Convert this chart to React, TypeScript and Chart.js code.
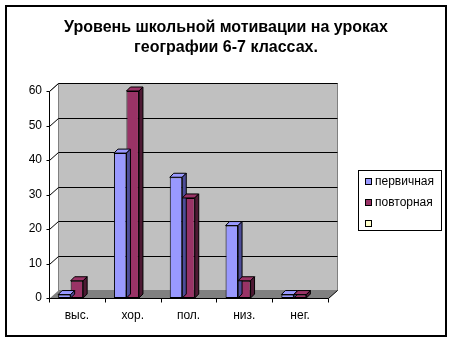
import React, { useEffect, useRef } from "react";
import { Chart, registerables } from "chart.js";
Chart.register(...registerables);

const TITLE = ["Уровень школьной мотивации на уроках", "географии 6-7 классах."];
const CATEGORIES = ["выс.", "хор.", "пол.", "низ.", "нег."];
const PRIMARY = [1, 42, 35, 21, 1];
const REPEAT = [5, 60, 29, 5, 1];
const THIRD: (number | null)[] = [null, null, null, null, null];
const SERIES_NAMES = ["первичная", "повторная", ""];
const Y_MIN = 0;
const Y_MAX = 60;
const Y_STEP = 10;

const FONT = "Arial, 'Liberation Sans', sans-serif";
const FRONT = ["#9999FF", "#993366", "#FFFFCC"];
const SIDE = ["#4D4D99", "#4D1933", "#80806A"];
const TOPC = ["#9999FF", "#993366", "#FFFFCC"];

const WX = 9;
const WY = -8;
const D = 4;

const depthPlugin = {
  id: "depth3d",
  beforeDatasetsDraw(chart: any) {
    const { ctx, chartArea: a, scales } = chart;
    const y = scales.y;
    const L = Math.round(a.left) + 0.5;
    const R = Math.round(a.right) + 0.5;
    const T = Math.round(a.top) + 0.5;
    const B = Math.round(a.bottom) + 0.5;
    ctx.save();
    ctx.lineWidth = 1;
    // back wall
    ctx.fillStyle = "#C0C0C0";
    ctx.fillRect(L + WX, T + WY, R - L, B - T);
    ctx.strokeStyle = "#808080";
    ctx.strokeRect(L + WX, T + WY, R - L, B - T);
    // floor
    ctx.fillStyle = "#808080";
    ctx.beginPath();
    ctx.moveTo(L, B);
    ctx.lineTo(R, B);
    ctx.lineTo(R + WX, B + WY);
    ctx.lineTo(L + WX, B + WY);
    ctx.closePath();
    ctx.fill();
    // left side top edge
    ctx.strokeStyle = "#808080";
    ctx.beginPath();
    ctx.moveTo(L, T);
    ctx.lineTo(L + WX, T + WY);
    ctx.stroke();
    // grid lines on wall + side
    ctx.strokeStyle = "#000";
    for (let v = Y_MIN + Y_STEP; v <= Y_MAX; v += Y_STEP) {
      const py = Math.round(y.getPixelForValue(v)) + 0.5;
      ctx.beginPath();
      ctx.moveTo(L, py);
      ctx.lineTo(L + WX, py + WY);
      ctx.lineTo(R + WX, py + WY);
      ctx.stroke();
    }
    // axes
    ctx.beginPath();
    ctx.moveTo(L, T);
    ctx.lineTo(L, B);
    ctx.lineTo(R, B);
    ctx.lineTo(R + WX, B + WY);
    ctx.stroke();
    // y ticks
    for (let v = Y_MIN; v <= Y_MAX; v += Y_STEP) {
      const py = Math.round(y.getPixelForValue(v)) + 0.5;
      ctx.beginPath();
      ctx.moveTo(L - 3, py);
      ctx.lineTo(L, py);
      ctx.stroke();
    }
    // x ticks at category boundaries
    const n = CATEGORIES.length;
    const cw = (a.right - a.left) / n;
    for (let i = 0; i <= n; i++) {
      const px = Math.round(a.left + i * cw) + 0.5;
      ctx.beginPath();
      ctx.moveTo(px, B);
      ctx.lineTo(px, B + 4);
      ctx.stroke();
    }
    ctx.restore();
  },
  afterDatasetsDraw(chart: any) {
    const { ctx } = chart;
    ctx.save();
    ctx.lineWidth = 1;
    ctx.strokeStyle = "#000";
    chart.data.datasets.forEach((ds: any, di: number) => {
      const meta = chart.getDatasetMeta(di);
      meta.data.forEach((el: any, j: number) => {
        if (ds.data[j] == null) return;
        const p = el.getProps(["x", "y", "base", "width"], true);
        const l = p.x - p.width / 2;
        const r = p.x + p.width / 2;
        const t = p.y;
        const b = p.base;
        ctx.fillStyle = TOPC[di];
        ctx.beginPath();
        ctx.moveTo(l, t);
        ctx.lineTo(r, t);
        ctx.lineTo(r + D, t - D);
        ctx.lineTo(l + D, t - D);
        ctx.closePath();
        ctx.fill();
        ctx.stroke();
        ctx.fillStyle = SIDE[di];
        ctx.beginPath();
        ctx.moveTo(r, t);
        ctx.lineTo(r + D, t - D);
        ctx.lineTo(r + D, b - D);
        ctx.lineTo(r, b);
        ctx.closePath();
        ctx.fill();
        ctx.stroke();
      });
    });
    ctx.restore();
  },
  afterDraw(chart: any) {
    const { ctx } = chart;
    ctx.save();
    // title
    ctx.fillStyle = "#000";
    ctx.textAlign = "center";
    ctx.textBaseline = "middle";
    ctx.font = `bold 16px ${FONT}`;
    TITLE.forEach((line, i) => ctx.fillText(line, 226, 28 + i * 20));
    // legend
    ctx.lineWidth = 1;
    ctx.strokeStyle = "#000";
    ctx.strokeRect(358.5, 170.5, 83, 60);
    ctx.font = `12px ${FONT}`;
    ctx.textAlign = "left";
    chart.data.datasets.forEach((ds: any, i: number) => {
      const cy = 182 + i * 21;
      ctx.fillStyle = FRONT[i];
      ctx.fillRect(365.5, cy - 3.5, 6, 6);
      ctx.strokeRect(365.5, cy - 3.5, 6, 6);
      ctx.fillStyle = "#000";
      ctx.fillText(ds.label, 375, cy);
    });
    // outer border
    ctx.lineWidth = 2;
    ctx.strokeRect(6, 6, 440, 330);
    ctx.restore();
  },
};

export default function App() {
  const ref = useRef<HTMLCanvasElement>(null);
  useEffect(() => {
    document.body.style.margin = "0";
    const seriesData = [PRIMARY, REPEAT, THIRD];
    const chart = new Chart(ref.current as HTMLCanvasElement, {
      type: "bar",
      data: {
        labels: CATEGORIES,
        datasets: seriesData.map((d, i) => ({
          label: SERIES_NAMES[i],
          data: d,
          backgroundColor: FRONT[i],
          borderColor: "#000",
          borderWidth: 1,
          borderSkipped: false,
          categoryPercentage: 0.672,
          barPercentage: 1,
        })),
      },
      options: {
        responsive: false,
        animation: false,
        layout: { padding: { left: 5, right: 124, top: 91, bottom: 0 } },
        plugins: {
          legend: { display: false },
          tooltip: { enabled: false },
          title: { display: false },
        },
        scales: {
          x: {
            grid: { display: false, drawTicks: false },
            border: { display: false },
            ticks: { color: "#000", font: { family: FONT, size: 12 }, padding: 10 },
            afterFit: (s: any) => {
              s.height = 44;
            },
          },
          y: {
            min: Y_MIN,
            max: Y_MAX,
            grid: { display: false, drawTicks: false },
            border: { display: false },
            ticks: { stepSize: Y_STEP, color: "#000", font: { family: FONT, size: 12 }, padding: 7 },
            afterFit: (s: any) => {
              s.width = 44;
            },
          },
        },
      } as any,
      plugins: [depthPlugin],
    });
    return () => chart.destroy();
  }, []);
  return (
    <div style={{ width: 452, height: 342 }}>
      <canvas ref={ref} width={452} height={342} style={{ display: "block" }} />
    </div>
  );
}
